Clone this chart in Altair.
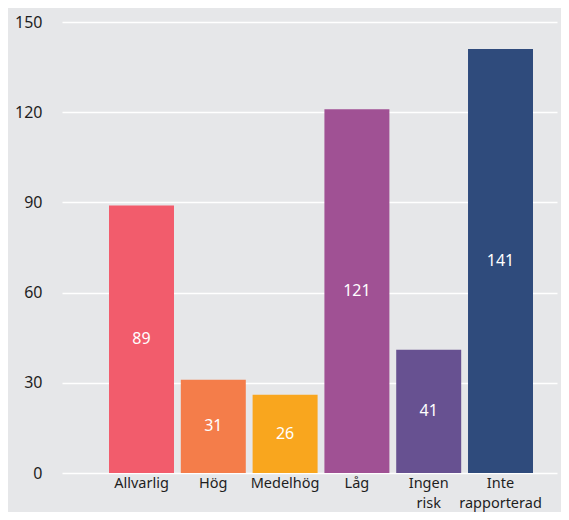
import altair as alt
import pandas as pd

categories = ["Allvarlig", "Hög", "Medelhög", "Låg", "Ingen risk", "Inte rapporterad"]
values = [89, 31, 26, 121, 41, 141]
colors = ["#f25c6c", "#f47d4a", "#f9a61e", "#a05194", "#675191", "#2f4b7c"]

df = pd.DataFrame({"kategori": categories, "antal": values})

FONT = "Noto Sans"
BG = "#e6e7e9"

base = alt.Chart(df).encode(
    x=alt.X(
        "kategori:N",
        sort=categories,
        title=None,
        scale=alt.Scale(paddingInner=0.095, paddingOuter=0.4945, align=0.662),
        axis=alt.Axis(
            labelAngle=0,
            labelExpr="split(datum.label, ' ')",
            labelFontSize=14.5,
            labelFont=FONT,
            labelColor="#1e1e1e",
            labelPadding=3,
            labelLineHeight=20,
            ticks=False,
            domain=False,
            grid=False,
        ),
    ),
)

bars = base.mark_bar().encode(
    y=alt.Y(
        "antal:Q",
        title=None,
        scale=alt.Scale(domain=[0, 150], nice=False),
        axis=alt.Axis(
            values=[0, 30, 60, 90, 120, 150],
            labelFontSize=16,
            labelFont=FONT,
            labelColor="#1e1e1e",
            labelPadding=20,
            ticks=False,
            domain=False,
            grid=True,
            gridColor="#ffffff",
            gridWidth=1.5,
        ),
    ),
    color=alt.Color(
        "kategori:N",
        sort=categories,
        scale=alt.Scale(domain=categories, range=colors),
        legend=None,
    ),
)

text = base.mark_text(
    color="white", fontSize=16, font=FONT, baseline="middle"
).encode(
    y=alt.Y("mid:Q"),
    text=alt.Text("antal:Q"),
).transform_calculate(mid="datum.antal / 2")

chart = (
    alt.layer(bars, text)
    .properties(
        width=495,
        height=451,
        background=BG,
        padding={"left": 54, "top": 14, "right": 4, "bottom": 39},
        autosize=alt.AutoSizeParams(type="none"),
    )
    .configure_view(stroke=None, fill=BG)
)

chart.save("out.html", embed_options={"renderer": "svg", "actions": False})
